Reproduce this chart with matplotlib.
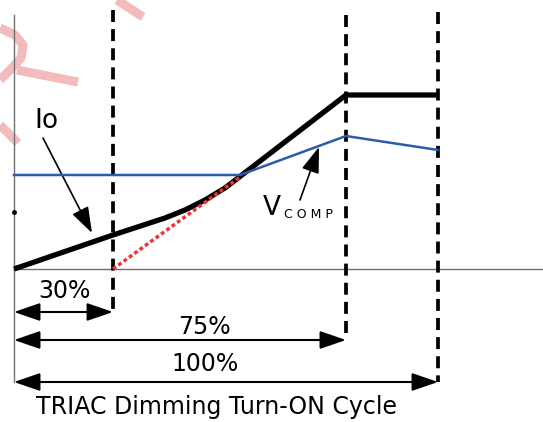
import matplotlib
matplotlib.use("Agg")
import matplotlib.pyplot as plt

# units: pixels from the y axis (x) and from the baseline (y)
io_x = [0, 99, 151, 171, 191, 211, 224, 332, 424]
io_y = [0, 34, 51, 59, 69, 81, 91, 174, 174]

vcomp_x = [0, 226, 332, 424]
vcomp_y = [94, 94, 133, 119]

red_x = [99, 226]
red_y = [0, 92]

# dashed markers of the cycle: position, top, bottom (arrow row)
mark_x = [99, 332, 424]
mark_top = [259, 254, 257]
mark_bottom = [-43, -71, -113]
mark_labels = ["30%", "75%", "100%"]
label_pos = [(50, -22), (190, -58), (191, -95)]

# watermark strokes (light pink)
wm_strokes = [
    ([-14, 1, 9, 7, -2, -14], [241, 234, 224, 211, 201, 189]),
    ([3, 64], [199, 187]),
    ([-14, 4], [144, 126]),
    ([103, 129], [269, 252]),
]

fig = plt.figure(figsize=(5.43, 4.22), dpi=100)
ax = fig.add_axes([0, 0, 1, 1])
ax.set_xlim(-14, 529)
ax.set_ylim(-153, 269)
ax.axis("off")

for sx, sy in wm_strokes:
    ax.plot(sx, sy, color="#f2bcbc", lw=6.5, solid_capstyle="butt",
            solid_joinstyle="round", zorder=0)

font = ["Liberation Sans Narrow", "DejaVu Sans"]

# axes
ax.plot([0, 0], [254, -113], color="#707070", lw=1)
ax.plot([0, 529], [0, 0], color="#707070", lw=1)
ax.plot([0], [57], "o", color="black", ms=2.5)

# dashed verticals
for x, t, b in zip(mark_x, mark_top, mark_bottom):
    ax.plot([x, x], [t, b], color="black", lw=2.7, dashes=(3.2, 1.9))

# curves
ax.plot(io_x, io_y, color="black", lw=3.8, solid_capstyle="butt",
        solid_joinstyle="round", zorder=3)
ax.plot(red_x, red_y, color="#f03232", lw=2.5, linestyle=(0, (1.1, 0.8)), zorder=4)
ax.plot(vcomp_x, vcomp_y, color="#2b5bab", lw=1.8, zorder=5)

# dimension arrows
for x, b, lab, (lx, ly) in zip(mark_x, mark_bottom, mark_labels, label_pos):
    ax.annotate("", xy=(x, b), xytext=(0, b),
                arrowprops=dict(arrowstyle="<|-|>,head_length=1.6,head_width=0.55",
                                color="black", lw=1.5, shrinkA=0, shrinkB=0,
                                mutation_scale=10))
    ax.text(lx, ly, lab, ha="center", va="center", fontsize=17, family=font)

ax.text(203, -138, "TRIAC Dimming Turn-ON Cycle", ha="center", va="center",
        fontsize=17, family=font)

# labels with pointer arrows
ax.text(32, 148, "Io", ha="center", va="center", fontsize=19, family=font)
ax.annotate("", xy=(78, 36), xytext=(29, 131),
            arrowprops=dict(arrowstyle="-|>,head_length=1.6,head_width=0.55",
                            color="black", lw=1.2, shrinkA=0, shrinkB=0,
                            mutation_scale=10))

ax.text(249, 61, "V", ha="left", va="center", fontsize=19, family=font)
ax.text(270, 55, "C O M P", ha="left", va="center", fontsize=9, family=font)
ax.annotate("", xy=(305, 122), xytext=(286, 69),
            arrowprops=dict(arrowstyle="-|>,head_length=1.6,head_width=0.55",
                            color="black", lw=1.2, shrinkA=0, shrinkB=0,
                            mutation_scale=10))

fig.savefig("out.png", dpi=100)
